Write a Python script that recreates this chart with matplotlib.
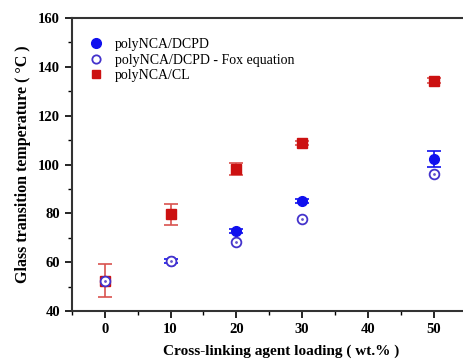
import numpy as np
import matplotlib
matplotlib.use("Agg")
import matplotlib.pyplot as plt
from matplotlib.ticker import MultipleLocator

plt.rcParams['font.family'] = ['Liberation Serif', 'DejaVu Serif']
plt.rcParams['font.weight'] = 'bold'

# 가교제 함량 (wt.%)
loading = [0, 10, 20, 30, 50]

# polyNCA/CL
cl_tg = [52.4, 79.6, 98.1, 108.8, 134.4]
cl_err = [6.7, 4.3, 2.5, 1.0, 1.0]

# polyNCA/DCPD (측정)
dcpd_tg = [52.4, 60.5, 72.8, 85.2, 102.2]
dcpd_err = [0.0, 0.8, 0.8, 0.8, 3.2]

# polyNCA/DCPD - Fox equation
fox_tg = [52.4, 60.5, 68.4, 77.5, 96.3]

fig = plt.figure(figsize=(4.64, 3.6), dpi=100)
ax = fig.add_axes([0.155, 0.136, 0.9, 0.814])

red = '#cc1111'
blue = '#1010ee'

ax.errorbar(loading, cl_tg, yerr=cl_err, fmt='s', color=red, ecolor='#d9534f',
            ms=6.5, capsize=5, elinewidth=1.2, capthick=1.2, zorder=2)
ax.errorbar(loading[1:], dcpd_tg[1:], yerr=dcpd_err[1:], fmt='o', color=blue,
            ms=7, capsize=5, elinewidth=1.2, capthick=1.2, zorder=3)
ax.plot(loading, fox_tg, 'o', mfc='white', mec='#4433cc', mew=1.3, ms=7, zorder=4)
ax.plot(loading, fox_tg, '.', color='#6655cc', ms=2, zorder=5)

# 범례
h1 = ax.plot([], [], 'o', color=blue, ms=7)[0]
h2 = ax.plot([], [], 'o', mfc='white', mec='#4433cc', mew=1.3, ms=6)[0]
h3 = ax.plot([], [], 's', color=red, ms=6)[0]
ax.legend([h1, h2, h3],
          ['polyNCA/DCPD', 'polyNCA/DCPD - Fox equation', 'polyNCA/CL'],
          loc='upper left', bbox_to_anchor=(0.010, 0.9495), frameon=False,
          handletextpad=0.39, labelspacing=0.17, borderaxespad=0,
          prop={'family': 'Liberation Serif', 'weight': 'normal', 'size': 10})

ax.set_xlim(-5, 58.5)
ax.set_ylim(40, 160)
ax.xaxis.set_major_locator(MultipleLocator(10))
ax.xaxis.set_minor_locator(MultipleLocator(5))
ax.yaxis.set_major_locator(MultipleLocator(20))
ax.yaxis.set_minor_locator(MultipleLocator(10))
ax.set_xticks([0, 10, 20, 30, 40, 50])
ax.tick_params(which='major', direction='out', length=5, width=1.2, labelsize=10.5)
ax.tick_params(which='minor', direction='out', length=3, width=1.0)
for s in ax.spines.values():
    s.set_linewidth(1.5)
    s.set_color('#333333')
ax.spines['right'].set_visible(False)

ax.set_xlabel('Cross-linking agent loading ( wt.% )', fontsize=11, fontweight='bold', labelpad=6)
ax.set_ylabel('Glass transition temperature ( °C )', fontsize=11.5, fontweight='bold', labelpad=5)

fig.savefig('out.png', dpi=100)
